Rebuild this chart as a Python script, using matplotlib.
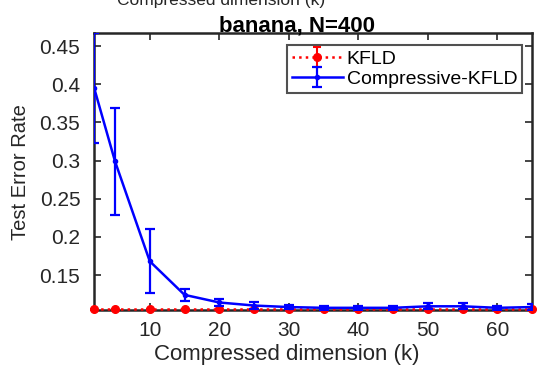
import numpy as np
import matplotlib
matplotlib.use("Agg")
import matplotlib.pyplot as plt

plt.rcParams['font.family'] = ['Liberation Sans', 'DejaVu Sans']

# compressed dimension k and test error rates (mean +/- std)
k_vals = [2, 5, 10, 15, 20, 25, 30, 35, 40, 45, 50, 55, 60, 65]
kfld_mean = [0.105, 0.105, 0.105, 0.105, 0.105, 0.105, 0.105, 0.105, 0.105, 0.105, 0.105, 0.105, 0.105, 0.105]
kfld_std = [0.001, 0.001, 0.001, 0.001, 0.001, 0.001, 0.001, 0.001, 0.001, 0.001, 0.001, 0.001, 0.001, 0.001]
ckfld_mean = [0.395, 0.299, 0.168, 0.124, 0.114, 0.110, 0.108, 0.107, 0.107, 0.107, 0.109, 0.109, 0.107, 0.108]
ckfld_std = [0.072, 0.070, 0.042, 0.008, 0.005, 0.004, 0.003, 0.003, 0.003, 0.003, 0.004, 0.004, 0.003, 0.004]

fig = plt.figure(figsize=(5.38, 3.67), dpi=100)
ax = fig.add_axes([0.175, 0.155, 0.814, 0.755])

axcol = '#262626'
ax.errorbar(k_vals, kfld_mean, yerr=kfld_std, color='red', linestyle=':', linewidth=1.8,
            marker='o', markersize=5.5, capsize=3, elinewidth=1.5, capthick=1.5,
            label='KFLD', clip_on=False, zorder=3)
ax.errorbar(k_vals, ckfld_mean, yerr=ckfld_std, color='blue', linestyle='-', linewidth=1.8,
            marker='.', markersize=6, capsize=3.5, elinewidth=1.6, capthick=1.6,
            label='Compressive-KFLD', clip_on=True, zorder=4)

ax.set_xlim(2, 65)
ax.set_ylim(0.104, 0.467)
ax.set_xticks([10, 20, 30, 40, 50, 60])
ax.set_yticks([0.15, 0.2, 0.25, 0.3, 0.35, 0.4, 0.45])
ax.set_yticklabels(['0.15', '0.2', '0.25', '0.3', '0.35', '0.4', '0.45'])
ax.tick_params(direction='in', top=True, right=True, length=5, width=1.2,
               colors=axcol, labelsize=15, labelcolor=axcol)
ax.tick_params(axis='x', pad=8)
ax.tick_params(axis='y', pad=10)
for sp in ax.spines.values():
    sp.set_color(axcol)
    sp.set_linewidth(1.8)

ax.set_xlabel('Compressed dimension (k)', fontsize=16, color=axcol, labelpad=3, x=0.44)
ax.set_ylabel('Test Error Rate', fontsize=14.5, color=axcol, labelpad=7)
ax.set_title('banana, N=400', fontsize=16, fontweight='bold', pad=1, x=0.463)

leg = ax.legend(loc='upper right', fontsize=14, frameon=True, fancybox=False,
                borderpad=0.25, handlelength=2.6, handletextpad=0.2, labelspacing=0.12,
                borderaxespad=0.0, bbox_to_anchor=(0.977, 0.955))
leg.get_frame().set_edgecolor(axcol)
leg.get_frame().set_linewidth(1.5)

# label of the panel above, cut off by the figure edge
fig.text(0.411, 1.0, 'Compressed dimension (k)', fontsize=12.5, color=axcol,
         ha='center', va='center')

fig.savefig('out.png', dpi=100)
